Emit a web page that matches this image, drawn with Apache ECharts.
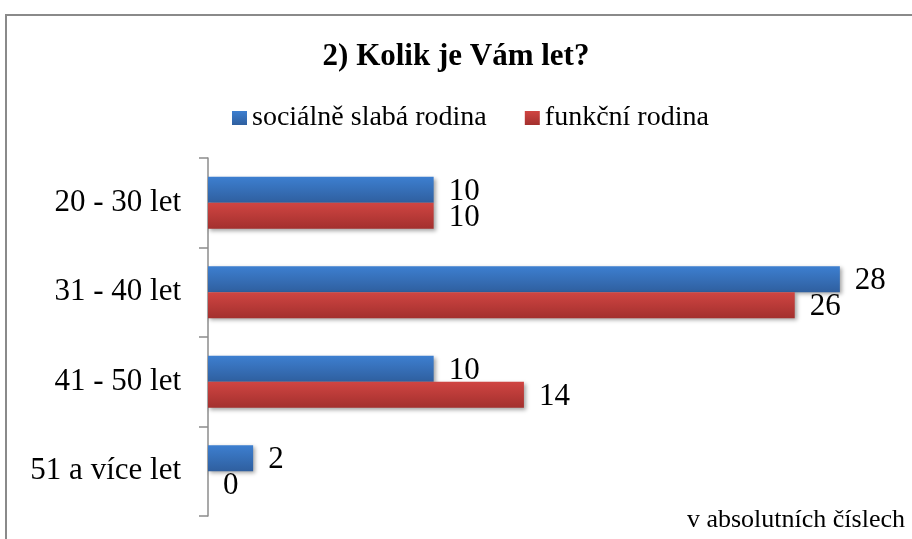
<!DOCTYPE html>
<html><head><meta charset="utf-8">
<script src="https://cdn.jsdelivr.net/npm/echarts@6/dist/echarts.min.js"></script>
<style>html,body{margin:0;padding:0;background:#fff}#c{width:912px;height:539px}</style>
</head><body><div id="c"></div>
<script>
const categories = ['20 - 30 let', '31 - 40 let', '41 - 50 let', '51 a více let'];
const seriesNames = ['sociálně slabá rodina', 'funkční rodina'];
const weakFamily = [10, 28, 10, 2];
const functionalFamily = [10, 26, 14, 0];

const serif = '"Liberation Serif", "DejaVu Serif", serif';
const chart = echarts.init(document.getElementById('c'));
function grad(top, bottom) {
  return new echarts.graphic.LinearGradient(0, 0, 0, 1, [
    { offset: 0, color: top }, { offset: 1, color: bottom }
  ]);
}
const blueG = grad('#3d7fd0', '#2f5f9f');
const redG = grad('#d04542', '#a3302e');
chart.setOption({
  animation: false,
  backgroundColor: '#fff',
  title: {
    text: '2) Kolik je Vám let?',
    left: 'center', top: 36,
    textStyle: { fontFamily: serif, fontSize: 31, fontWeight: 'bold', color: '#000' }
  },
  legend: {
    top: 99, left: 227,
    itemWidth: 15, itemHeight: 14, itemGap: 38,
    icon: 'rect',
    textStyle: { fontFamily: serif, fontSize: 28, color: '#000' },
    data: [
      { name: seriesNames[0], itemStyle: { color: blueG } },
      { name: seriesNames[1], itemStyle: { color: redG } }
    ]
  },
  color: ['#3a78c6', '#c0403d'],
  grid: { left: 208, right: 27, top: 158, bottom: 23, containLabel: false },
  xAxis: {
    type: 'value', min: 0, max: 30, show: false
  },
  yAxis: {
    type: 'category', data: categories, inverse: true,
    axisLine: { show: true, lineStyle: { color: '#8c8c8c', width: 1.5 } },
    axisTick: { show: true, length: 9, lineStyle: { color: '#8c8c8c', width: 1.5 } },
    axisLabel: { fontFamily: serif, fontSize: 31, color: '#000', margin: 27 }
  },
  series: [
    {
      name: seriesNames[0], type: 'bar', data: weakFamily,
      barWidth: 26, barGap: '0%',
      itemStyle: { color: blueG, shadowColor: 'rgba(0,0,0,0.35)', shadowBlur: 4, shadowOffsetX: 2, shadowOffsetY: 2 },
      label: { show: true, position: 'right', distance: 15, fontFamily: serif, fontSize: 31, color: '#000', offset: [0, 2] }
    },
    {
      name: seriesNames[1], type: 'bar', data: functionalFamily,
      barWidth: 26,
      itemStyle: { color: redG, shadowColor: 'rgba(0,0,0,0.35)', shadowBlur: 4, shadowOffsetX: 2, shadowOffsetY: 2 },
      label: { show: true, position: 'right', distance: 15, fontFamily: serif, fontSize: 31, color: '#000', offset: [0, 2] }
    }
  ],
  graphic: [
    { type: 'rect', shape: { x: 6, y: 15, width: 930, height: 560 }, style: { fill: 'none', stroke: '#8a8a8a', lineWidth: 2 }, silent: true },
    { type: 'text', right: 7, top: 507, style: { text: 'v absolutních číslech', font: '26px ' + serif, fill: '#000' } }
  ]
});
</script></body></html>
